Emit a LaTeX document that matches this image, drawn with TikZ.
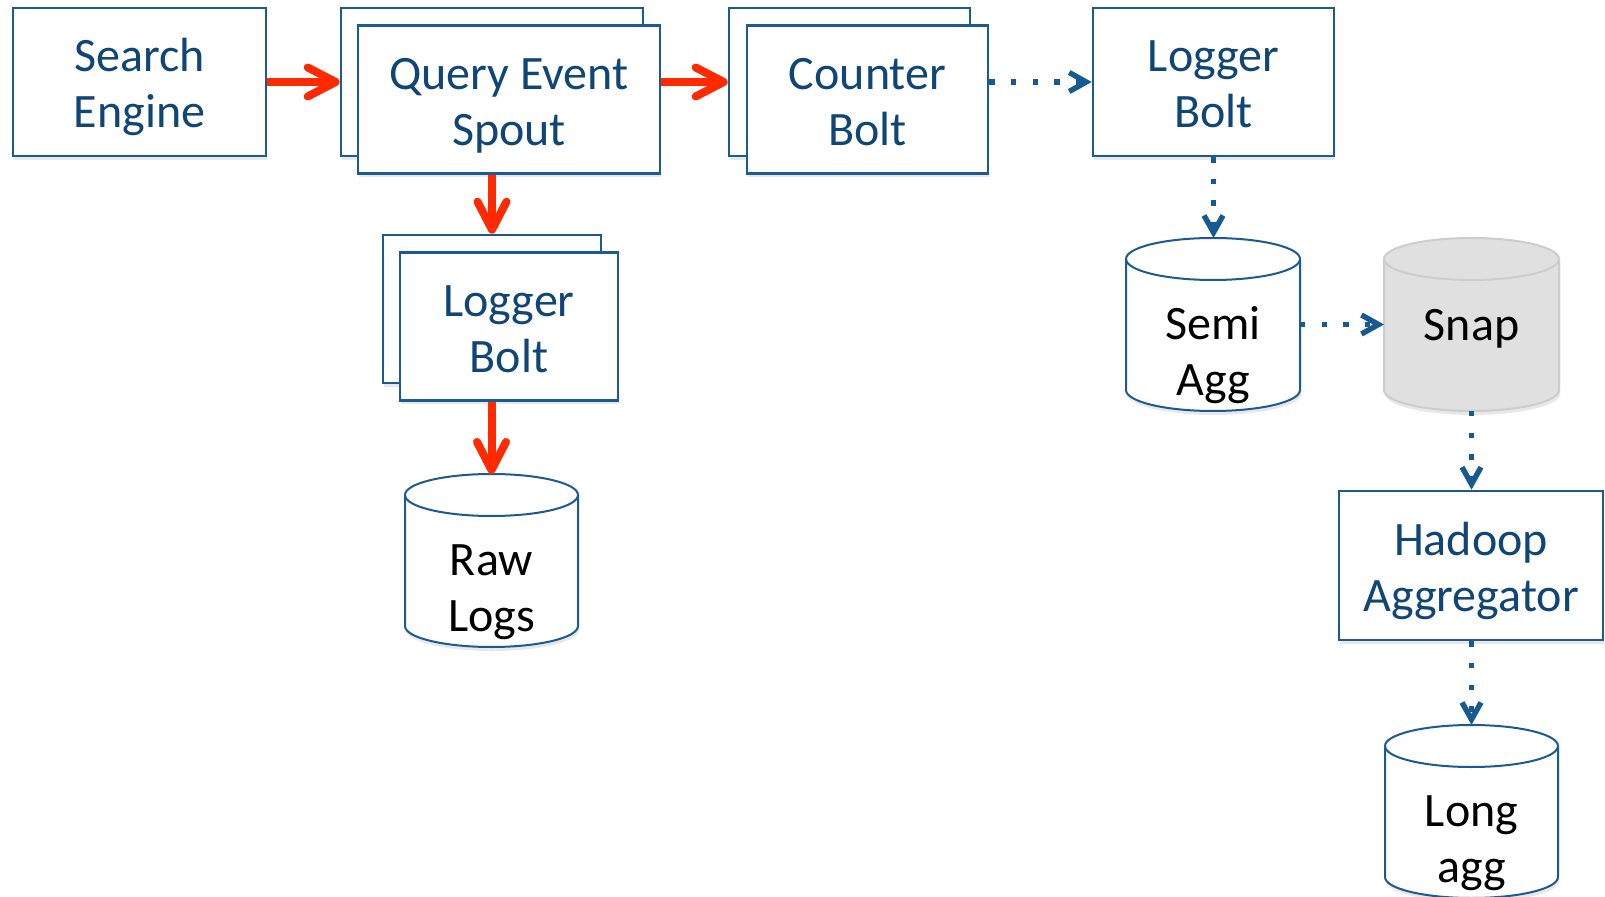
\documentclass[tikz,border=0pt]{standalone}
\usepackage{fontspec}
\setmainfont{Carlito}
\usetikzlibrary{arrows.meta,shadows,calc}
\definecolor{boxline}{HTML}{1C5A92}
\definecolor{boxtext}{HTML}{0F4577}
\definecolor{arrblue}{HTML}{175A91}
\definecolor{arrred}{HTML}{FF2A00}
\definecolor{snapfill}{HTML}{E0E0E0}
\definecolor{snapline}{HTML}{CDCDCD}
\tikzset{
  txtbase/.style={font=\fontsize{24}{28}\selectfont, align=center, text height=46pt, text depth=0pt, inner sep=0pt},
  softshadow/.style={drop shadow={opacity=0.18, shadow xshift=0.6pt, shadow yshift=-2pt}},
  bx/.style={txtbase, draw=boxline, line width=1.3pt, fill=white, text=boxtext, minimum height=74pt, softshadow},
  cylbox/.style={inner sep=0pt, outer sep=0pt, minimum height=86.5pt},
  cyltext/.style={txtbase, text=black},
  cylonetext/.style={font=\fontsize{24}{28}\selectfont, inner sep=0pt, text=black, anchor=base},
  cylwhite/.style={draw=boxline, line width=1pt, fill=white},
  cylgray/.style={draw=snapline, line width=1pt, fill=snapfill},
  redarrow/.style={draw=arrred, line width=4pt, -{Straight Barb[length=14pt,width=14.5pt,round]}},
  bluearrow/.style={draw=arrblue, line width=2.7pt, dash pattern=on 2.7pt off 8.1pt, -{Straight Barb[length=8.5pt,width=9.5pt]}},
}
\newcommand{\mycyl}[3]{%
  \path[#3, softshadow] ([yshift=-10.5pt]#1.north west) -- ([yshift=10.5pt]#1.south west)
    arc[start angle=180, end angle=360, x radius=#2, y radius=10.5pt]
    -- ([yshift=-10.5pt]#1.north east)
    arc[start angle=0, end angle=180, x radius=#2, y radius=10.5pt] -- cycle;
  \draw[#3, fill=none] ([yshift=-10.5pt]#1.north west)
    arc[start angle=180, end angle=360, x radius=#2, y radius=10.5pt];
}
\begin{document}
\begin{tikzpicture}[x=0.5pt, y=-0.5pt]
\useasboundingbox (0,0) rectangle (1605,897);

% boxes
\node[bx, minimum width=126.5pt] (se) at (139.5,82) {Search\\Engine};
\node[bx, minimum width=151pt] (qesb) at (492,82) {};
\node[bx, minimum width=151pt] (qes) at (509,99.5) {Query Event\\Spout};
\node[bx, minimum width=120.5pt] (cbb) at (849.5,82) {};
\node[bx, minimum width=120.5pt] (cb) at (867.5,99.5) {Counter\\Bolt};
\node[bx, minimum width=120.5pt] (lbt) at (1213.5,82) {Logger\\Bolt};
\node[bx, minimum width=109pt] (lmb) at (492,309) {};
\node[bx, minimum width=109pt] (lm) at (509,326.5) {Logger\\Bolt};
\node[bx, minimum width=132pt, minimum height=74.5pt] (had) at (1471,565.5) {Hadoop\\Aggregator};

% cylinders
\node[cylbox, minimum width=86.5pt] (raw) at (491.5,560.5) {};
\mycyl{raw}{43.25pt}{cylwhite}
\node[cyltext] (rawtext) at ([yshift=-12.5pt]raw.center) {Raw\\Logs};

\node[cylbox, minimum width=87pt] (semi) at (1213,324.5) {};
\mycyl{semi}{43.5pt}{cylwhite}
\node[cyltext] (semitext) at ([yshift=-12.5pt]semi.center) {Semi\\Agg};

\node[cylbox, minimum width=87.5pt] (snap) at (1471.5,324.5) {};
\mycyl{snap}{43.75pt}{cylgray}
\node[cylonetext] (snaptext) at ([yshift=-8.25pt]snap.center) {Snap};

\node[cylbox, minimum width=86.5pt] (long) at (1471.5,811.5) {};
\mycyl{long}{43.25pt}{cylwhite}
\node[cyltext] (longtext) at ([yshift=-12.5pt]long.center) {Long\\agg};

% red arrows
\draw[redarrow] (se.east) -- (qesb.west);
\draw[redarrow] (qes.east |- cbb.west) -- (cbb.west);
\draw[redarrow] (qes.south -| lmb.north) -- (lmb.north);
\draw[redarrow] (lm.south -| raw.north) -- (raw.north);

% blue dotted arrows
\draw[bluearrow] (cb.east |- lbt.west) -- (lbt.west);
\draw[bluearrow] (lbt.south) -- (lbt.south |- semi.north);
\draw[bluearrow] (semi.east) -- (snap.west);
\draw[bluearrow] (snap.south) -- (snap.south |- had.north);
\draw[bluearrow] (had.south -| snap.south) -- (snap.south |- long.north);
\end{tikzpicture}
\end{document}
